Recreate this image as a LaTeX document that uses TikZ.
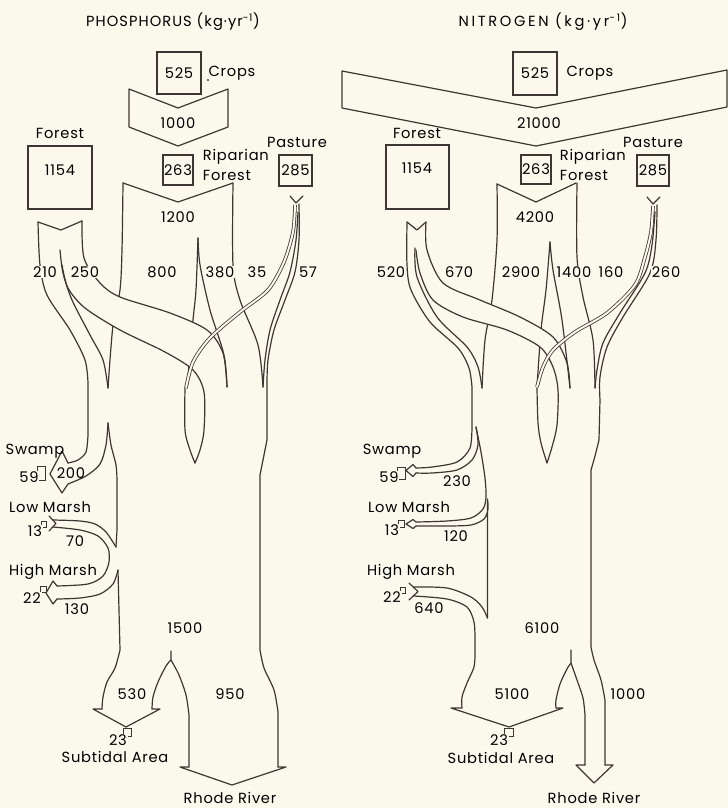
\documentclass[tikz,border=0pt]{standalone}
\usepackage{fontspec}
\setmainfont{Poppins}[LetterSpace=5]
\usepackage{xcolor}
\definecolor{paperCream}{RGB}{251, 249, 236}
\definecolor{inkBrown}{RGB}{62, 54, 50}
\usepackage{tikz}
\newcommand{\figfont}{\fontsize{11}{12}\selectfont}

\begin{document}
\begin{tikzpicture}[x=0.75pt, y=-0.75pt,
  flow/.style={draw=inkBrown, line width=0.9pt, line join=round, line cap=round},
  rill/.style={draw=inkBrown, line width=0.6pt, double=paperCream, double distance=1.5pt},
  box/.style={rectangle, draw=inkBrown, line width=0.9pt, inner sep=0pt, font=\figfont},
  sink/.style={rectangle, draw=inkBrown, line width=0.7pt, inner sep=0pt},
  num/.style={font=\figfont, fill=paperCream, inner sep=0.6pt},
  lbl/.style={font=\figfont, inner sep=0.5pt},
]
  \fill[paperCream] (0,0) rectangle (728,808);
  \useasboundingbox (0,0) rectangle (728,808);

  %%%%%%%%%%%%%%%% PHOSPHORUS %%%%%%%%%%%%%%%%
  % Source boxes
  \node[box, minimum width=33pt, minimum height=31.5pt] (cropsP) at (179,73) {525};
  \node[box, minimum width=48pt, minimum height=47.25pt] (forestP) at (60,177.5) {};
  \node[box, minimum width=22.5pt, minimum height=22.5pt] (ripP) at (178,170) {263};
  \node[box, minimum width=24.75pt, minimum height=23.25pt] (pastP) at (295.5,170.5) {285};
  \fill[inkBrown] (208,80) circle (0.8pt);

  % Crops chevron
  \draw[flow] (129,89) -- (178,108) -- (228,89) -- (228,127) -- (178,146) -- (129,127) -- cycle;

  % Riparian flow (parts crossed by the forest band)
  \draw[flow] (123,183) -- (178,202) -- (233,183);
  \draw[flow] plot[smooth] coordinates {(123,183) (122,250) (120,290) (113,325) (108,388)};
  \draw[flow] plot[smooth] coordinates {(198,238) (196,290) (193,320) (187,388)};

  % Forest band (250) crossing over
  \fill[paperCream] plot[smooth] coordinates {(82,221) (84,258) (100,283) (120,297) (170,313) (207,330) (223,353) (227,387)}
    -- plot[smooth] coordinates {(204,392) (193,370) (165,352) (120,330) (85,308) (68,288) (62,265)} -- cycle;
  \draw[flow] plot[smooth] coordinates {(82,221) (84,258) (100,283) (120,297) (170,313) (207,330) (223,353) (227,387)};
  \draw[flow] plot[smooth] coordinates {(62,265) (68,288) (85,308) (120,330) (165,352) (193,370) (204,392) (204,430) (200,450) (195,463)};

  % Riparian right side
  \draw[flow] plot[smooth] coordinates {(233,183) (233,265) (240,300) (258,345) (263,387)};
  \draw[flow] plot[smooth] coordinates {(198,238) (200,265) (210,310) (224,355) (227,387)};

  % Forest flow
  \draw[flow] (38,222) -- (61,230) -- (82,221);
  \draw[flow] plot[smooth] coordinates {(38,222) (40,265) (47,295) (70,330) (85,360) (88,383)} -- (88,435)
    -- plot[smooth] coordinates {(88,435) (86,452) (78,460) (68,463)};
  \draw[flow] plot[smooth] coordinates {(60,250) (63,273) (72,300) (90,335) (103,360) (108,388)};

  % Pasture flow
  \draw[flow] (290,196) -- (296,203) -- (303,196);
  \draw[flow] plot[smooth] coordinates {(298,212) (296,240) (290,272) (280,300) (270,330) (265,360) (263,387)};
  \draw[flow] plot[smooth] coordinates {(299,204) (299,240) (295,272) (285,300) (274,330) (268,360) (267,383)} -- (267,440)
    -- plot[smooth] coordinates {(267,440) (264,455) (260,475)} -- (260,650)
    -- plot[smooth] coordinates {(260,650) (264,668) (274,690) (278,712)} -- (278,767);
  \draw[rill] plot[smooth] coordinates {(295,205) (293,232) (284,262) (268,290) (240,312) (210,338) (193,362) (186,388)};

  % Lens
  \draw[flow] plot[smooth] coordinates {(185,388) (185,430) (190,450) (195,463)};

  % Swamp
  \draw[flow] (68,463) -- (62,451) -- (50,474) -- (62,493) -- (68,484);
  \draw[flow] plot[smooth] coordinates {(68,484) (86,476) (100,464) (106,445) (108,423)};
  \draw[flow] plot[smooth] coordinates {(108,423) (111,445) (116,465) (117,480)} -- (117,530) -- (116,547);

  % Low and high marsh
  \draw[flow] (49,516) -- (56,523.5) -- (49,531);
  \draw[flow] plot[smooth] coordinates {(53,520) (80,521) (95,524) (106,532) (116,547)};
  \draw[flow] plot[smooth] coordinates {(53,527) (80,530) (98,536) (108,548) (109,562) (103,576) (88,584) (57,586)};
  \draw[flow] (57,586) -- (53,581) -- (46,593) -- (53,604) -- (57,599);
  \draw[flow] plot[smooth] coordinates {(57,599) (80,598) (100,594) (113,584) (118,570)};
  \draw[flow] (118,570) -- (120,650)
    -- plot[smooth] coordinates {(120,650) (115,668) (107,682) (103,697) (102,709)};

  % Outlets
  \draw[flow] (102,709) -- (93,709) -- (126,727) -- (160,709) -- (152,709);
  \draw[flow] plot[smooth] coordinates {(152,709) (153,697) (158,682) (166,666) (171,660)} -- (171,651);
  \draw[flow] plot[smooth] coordinates {(171,660) (179,675) (186,695) (189,715)} -- (189,767);
  \draw[flow] (189,767) -- (180,767) -- (232,785) -- (286,767) -- (278,767);

  % Sink boxes
  \node[sink, minimum width=6pt, minimum height=10.5pt] (swampP) at (41,473) {};
  \node[sink, minimum width=3.75pt, minimum height=4.5pt] (lowP) at (44,524.5) {};
  \node[sink, minimum width=4.5pt, minimum height=4.5pt] (highP) at (43.5,589.5) {};
  \node[sink, minimum width=6pt, minimum height=6pt] (subP) at (127,732) {};

  % Labels
  \node[lbl, font=\figfont\addfontfeatures{LetterSpace=7}] (titleP) at (173,22) {PHOSPHORUS (kg·yr\textsuperscript{-1})};
  \node[lbl] (cropsPl) at (232,73) {Crops};
  \node[num] (chevP) at (178,123) {1000};
  \node[lbl] (forestPl) at (60,133) {Forest};
  \node[lbl] (forestPv) at (60,170) {1154};
  \node[lbl, anchor=west] (ripPa) at (202,157) {Riparian};
  \node[lbl, anchor=west] (ripPb) at (202,175) {Forest};
  \node[lbl] (pastPl) at (297,142) {Pasture};
  \node[num] (ripPv) at (178,217) {1200};
  \node[num] (fa) at (45,272) {210};
  \node[num] (fb) at (85,272) {250};
  \node[num] (ra) at (162,272) {800};
  \node[num] (rb) at (220,272) {380};
  \node[num] (pa) at (257,272) {35};
  \node[num] (pb) at (308,272) {57};
  \node[lbl] (swampPl) at (35,451) {Swamp};
  \node[num] (swampPv) at (29,477) {59};
  \node[lbl] (swampPf) at (71,473) {200};
  \node[lbl] (lowPl) at (50,507) {Low Marsh};
  \node[num] (lowPv) at (35,531) {13};
  \node[num] (lowPf) at (75,541) {70};
  \node[lbl] (highPl) at (53,572) {High Marsh};
  \node[num] (highPv) at (32,598) {22};
  \node[num] (highPf) at (77,609) {130};
  \node[num] (trunkP) at (185,628) {1500};
  \node[num] (subPf) at (132,694) {530};
  \node[num] (rivPf) at (230,694) {950};
  \node[num] (subPv) at (118,740) {23};
  \node[lbl] (subPl) at (115,757) {Subtidal Area};
  \node[lbl] (rivPl) at (230,798) {Rhode River};

  %%%%%%%%%%%%%%%% NITROGEN %%%%%%%%%%%%%%%%
  % Source boxes
  \node[box, minimum width=33pt, minimum height=32.25pt] (cropsN) at (535,73.5) {525};
  \node[box, minimum width=47.25pt, minimum height=48pt] (forestN) at (417.5,177) {};
  \node[box, minimum width=22.5pt, minimum height=21.75pt] (ripN) at (536,169.5) {263};
  \node[box, minimum width=24pt, minimum height=23.25pt] (pastN) at (653,170.5) {285};

  % Crops chevron
  \draw[flow] (342,71) -- (536,108) -- (727,70) -- (727,107) -- (536,146) -- (342,108) -- cycle;

  % Riparian flow (parts crossed by the forest band)
  \draw[flow] (497,184) -- (536,202) -- (576,183);
  \draw[flow] plot[smooth] coordinates {(497,184) (497,240) (492,300) (485,340) (482,388)};
  \draw[flow] plot[smooth] coordinates {(550,242) (546,290) (541,330) (537,387)};

  % Forest band (670) crossing over
  \fill[paperCream] plot[smooth] coordinates {(426,222) (427,250) (443,283) (480,300) (520,317) (553,337) (567,363) (570,388)}
    -- plot[smooth] coordinates {(558,390) (553,367) (540,347) (507,330) (463,317) (433,300) (420,273) (416,250)} -- cycle;
  \draw[flow] plot[smooth] coordinates {(426,222) (427,250) (443,283) (480,300) (520,317) (553,337) (567,363) (570,388)};
  \draw[flow] plot[smooth] coordinates {(416,250) (420,273) (433,300) (463,317) (507,330) (540,347) (553,367) (558,390) (557,425) (552,447) (547,463)};

  % Riparian right side
  \draw[flow] plot[smooth] coordinates {(577,183) (577,257) (583,297) (593,340) (595,388)};
  \draw[flow] plot[smooth] coordinates {(550,242) (553,270) (562,320) (570,388)};

  % Forest flow
  \draw[flow] (407,222) -- (417,230) -- (426,222);
  \draw[flow] plot[smooth] coordinates {(407,222) (407,265) (411,290) (430,322) (458,348) (469,368) (472,387)} -- (472,425)
    -- plot[smooth] coordinates {(472,425) (470,448) (457,462) (432,467) (416,468)};
  \draw[flow] plot[smooth] coordinates {(415,248) (417,277) (437,317) (467,347) (478,367) (482,388)};

  % Pasture flow
  \draw[flow] (647,197) -- (653,204) -- (660,197);
  \draw[flow] plot[smooth] coordinates {(655,212) (652,245) (645,273) (620,313) (603,343) (597,370) (595,388)};
  \draw[flow] plot[smooth] coordinates {(657,205) (656,240) (650,273) (623,317) (607,347) (600,377) (600,400)} -- (599,440)
    -- plot[smooth] coordinates {(599,440) (595,456) (591,470)} -- (591,647)
    -- plot[smooth] coordinates {(591,647) (594,660) (601,680) (605,700)} -- (605,765);
  \draw[rill] plot[smooth] coordinates {(653,206) (651,232) (645,257) (635,285) (607,313) (575,332) (553,350) (543,367) (537,387)};

  % Lens
  \draw[flow] plot[smooth] coordinates {(537,388) (538,423) (541,443) (547,463)};

  % Swamp
  \draw[flow] (416,468) -- (413,464.5) -- (406,470.5) -- (413,476.5) -- (416,473);
  \draw[flow] plot[smooth] coordinates {(416,473) (432,473) (457,470) (472,460) (478,445) (476,427)};
  \draw[flow] plot[smooth] coordinates {(476,427) (481,452) (485,478) (486,497) (483,509) (471,518) (447,521) (416,522)};

  % Low and high marsh
  \draw[flow] (416,522) -- (413,519.5) -- (406,524) -- (413,528.5) -- (416,526);
  \draw[flow] plot[smooth] coordinates {(416,526) (447,526) (471,525) (484,519) (488,509) (487.5,499)} -- (487.5,618);
  \draw[flow] plot[smooth] coordinates {(487.5,618) (482,607) (471,597) (447,588) (414,587)};
  \draw[flow] (409,583) -- (418,591.5) -- (409,600);
  \draw[flow] plot[smooth] coordinates {(414,596) (447,599) (467,607) (474,622) (475,640)} -- (475,653)
    -- plot[smooth] coordinates {(475,653) (474,667) (467,683) (462,697) (462,708)};

  % Outlets
  \draw[flow] (462,708) -- (451,708) -- (509,727) -- (563,708) -- (556,708);
  \draw[flow] plot[smooth] coordinates {(556,708) (556,700) (560,684) (567,669) (571,663)} -- (571,650);
  \draw[flow] plot[smooth] coordinates {(571,663) (577,680) (583,698) (585,715)} -- (585,765);
  \draw[flow] (585,765) -- (576,765) -- (594,783) -- (613,765) -- (605,765);

  % Sink boxes
  \node[sink, minimum width=6pt, minimum height=9pt] (swampN) at (401,473) {};
  \node[sink, minimum width=4.5pt, minimum height=5.25pt] (lowN) at (401,523.5) {};
  \node[sink, minimum width=3.75pt, minimum height=4.5pt] (highN) at (402.5,590) {};
  \node[sink, minimum width=6.75pt, minimum height=6pt] (subN) at (508.5,732) {};

  % Labels
  \node[lbl, font=\figfont\addfontfeatures{LetterSpace=18}] (titleN) at (543,22) {NITROGEN (kg·yr\textsuperscript{-1})};
  \node[lbl] (cropsNl) at (590,73) {Crops};
  \node[num] (chevN) at (539,123) {21000};
  \node[lbl] (forestNl) at (417,133) {Forest};
  \node[lbl] (forestNv) at (417,168) {1154};
  \node[lbl, anchor=west] (ripNa) at (559,157) {Riparian};
  \node[lbl, anchor=west] (ripNb) at (559,175) {Forest};
  \node[lbl] (pastNl) at (653,142) {Pasture};
  \node[num] (ripNv) at (535,217) {4200};
  \node[num] (fc) at (391,272) {520};
  \node[num] (fd) at (459,272) {670};
  \node[num] (rc) at (521,272) {2900};
  \node[num] (rd) at (574,272) {1400};
  \node[num] (pc) at (611,272) {160};
  \node[num] (pd) at (666,272) {260};
  \node[lbl] (swampNl) at (392,451) {Swamp};
  \node[num] (swampNv) at (389,477) {59};
  \node[num] (swampNf) at (457,481) {230};
  \node[lbl] (lowNl) at (409,507) {Low Marsh};
  \node[num] (lowNv) at (392,530) {13};
  \node[num] (lowNf) at (456,536) {120};
  \node[lbl] (highNl) at (411,572) {High Marsh};
  \node[num] (highNv) at (392,597) {22};
  \node[num] (highNf) at (429,608) {640};
  \node[num] (trunkN) at (542,628) {6100};
  \node[num] (subNf) at (512,694) {5100};
  \node[num] (rivNf) at (628,694) {1000};
  \node[num] (subNv) at (499,740) {23};
  \node[lbl] (subNl) at (501,758) {Subtidal Area};
  \node[lbl] (rivNl) at (594,798) {Rhode River};
\end{tikzpicture}
\end{document}
